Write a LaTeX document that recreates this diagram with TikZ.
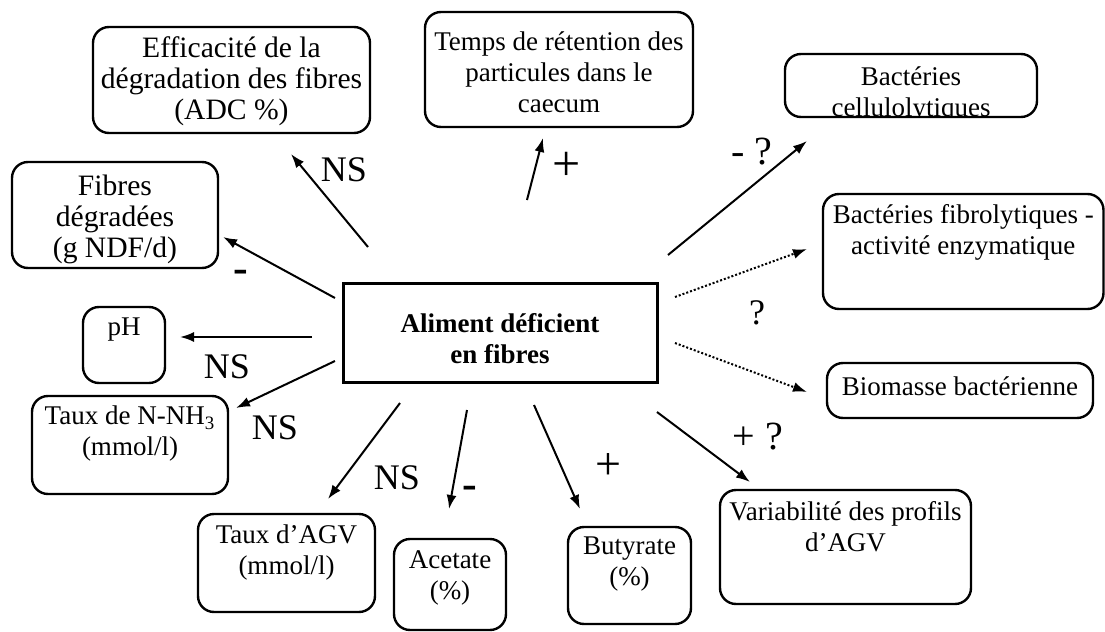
\documentclass[tikz,border=0pt]{standalone}
\usepackage{fontspec}
\setmainfont{Liberation Serif}
\usetikzlibrary{positioning,arrows.meta}

\begin{document}
\begin{tikzpicture}[x=0.5pt,y=-0.5pt,
        rbox/.style={draw,line width=1.2pt,rounded corners=8pt,inner sep=0pt},
        sbox/.style={draw,line width=1.5pt,inner sep=0pt},
        txt/.style={align=center,inner sep=0pt,font=\fontsize{13.5}{15.5}\selectfont},
        bigtxt/.style={txt,font=\fontsize{14.8}{15.5}\selectfont},
        lbl/.style={inner sep=0pt,font=\fontsize{18}{20}\selectfont},
        qlbl/.style={inner sep=0pt,font=\fontsize{20}{22}\selectfont},
        plus/.style={inner sep=0pt,font=\fontsize{23}{25}\selectfont},
        minus/.style={inner sep=0pt,anchor=base,font=\fontsize{22}{24}\selectfont\bfseries},
        arr/.style={line width=1pt,-{Latex[length=7pt,width=5pt]}},
        darr/.style={arr,dash pattern=on 1pt off 1pt}]
        \useasboundingbox (0,0) rectangle (1105,632);
        % centre
        \node[sbox,minimum width=157pt,minimum height=49.5pt] (main) at (500,332.5) {};
        \node[txt,font=\fontsize{13.5}{15.5}\selectfont\bfseries] (mainT) at (500,339) {Aliment déficient\\en fibres};
        % boxes
        \node[rbox,minimum width=138.5pt,minimum height=53pt] (eff) at (231.5,80) {};
        \node[bigtxt] (effT) at (231.5,81) {Efficacité de la\\dégradation des fibres\\(ADC \%)};
        \node[rbox,minimum width=103pt,minimum height=53pt] (fib) at (115,215) {};
        \node[bigtxt] (fibT) at (115,219) {Fibres\\dégradées\\(g NDF/d)};
        \node[rbox,minimum width=134pt,minimum height=57.5pt] (temps) at (559,69.5) {};
        \node[txt] (tempsT) at (559,72) {Temps de rétention des\\particules dans le\\caecum};
        \begin{scope}
            \clip (785,54) rectangle (1037,117);
            \node[txt] (bcellT) at (911,95) {Bactéries\\cellulolytiques};
        \end{scope}
        \node[rbox,minimum width=126pt,minimum height=31.5pt] (bcell) at (911,85.5) {};
        \node[rbox,minimum width=140.25pt,minimum height=57.5pt] (bfib) at (963.25,251.5) {};
        \node[txt,below=5.5pt of bfib.north] (bfibT) {Bactéries fibrolytiques -\\activité enzymatique};
        \node[rbox,minimum width=133pt,minimum height=27.5pt] (biom) at (960,390.5) {};
        \node[txt] (biomT) at (960,386) {Biomasse bactérienne};
        \node[rbox,minimum width=41pt,minimum height=38pt] (ph) at (124,345) {};
        \node[txt,below=6pt of ph.north] (phT) {pH};
        \node[rbox,minimum width=98pt,minimum height=49pt] (nnh) at (130,445) {};
        \node[txt,below=5.5pt of nnh.north] (nnhT) {Taux de N-NH\textsubscript{3}\\(mmol/l)};
        \node[rbox,minimum width=88.5pt,minimum height=49pt] (agv) at (286.5,563) {};
        \node[txt,below=6pt of agv.north] (agvT) {Taux d’AGV\\(mmol/l)};
        \node[rbox,minimum width=56pt,minimum height=45.5pt] (acet) at (450,584.5) {};
        \node[txt,below=6pt of acet.north] (acetT) {Acetate\\(\%)};
        \node[rbox,minimum width=61.5pt,minimum height=48.5pt] (buty) at (629.5,575.5) {};
        \node[txt,below=5.5pt of buty.north] (butyT) {Butyrate\\(\%)};
        \node[rbox,minimum width=125.5pt,minimum height=57pt] (vari) at (845.5,547) {};
        \node[txt,below=6pt of vari.north] (variT) {Variabilité des profils\\d’AGV};
        % arrow ends
        \coordinate (eff-s) at (368,247);   \coordinate (eff-e) at (291,154);
        \coordinate (fib-s) at (335,298);   \coordinate (fib-e) at (223,237);
        \coordinate (temps-s) at (527,200); \coordinate (temps-e) at (543,138);
        \coordinate (bcell-s) at (668,255); \coordinate (bcell-e) at (807,141);
        \coordinate (bfib-s) at (675,297);  \coordinate (bfib-e) at (807,249);
        \coordinate (biom-s) at (675,343);  \coordinate (biom-e) at (807,392);
        \coordinate (vari-s) at (657,412);  \coordinate (vari-e) at (750,482);
        \coordinate (buty-s) at (534,405);  \coordinate (buty-e) at (580,509);
        \coordinate (acet-s) at (467,410);  \coordinate (acet-e) at (449,509);
        \coordinate (agv-s) at (400,403);   \coordinate (agv-e) at (328,499);
        \coordinate (nnh-s) at (335,361);   \coordinate (nnh-e) at (236,408);
        \coordinate (ph-s) at (312,337);    \coordinate (ph-e) at (180,337);
        % arrows
        \draw[arr] (eff-s) -- (eff-e);
        \draw[arr] (fib-s) -- (fib-e);
        \draw[arr] (temps-s) -- (temps-e);
        \draw[arr] (bcell-s) -- (bcell-e);
        \draw[darr] (bfib-s) -- (bfib-e);
        \draw[darr] (biom-s) -- (biom-e);
        \draw[arr] (vari-s) -- (vari-e);
        \draw[arr] (buty-s) -- (buty-e);
        \draw[arr] (acet-s) -- (acet-e);
        \draw[arr] (agv-s) -- (agv-e);
        \draw[arr] (nnh-s) -- (nnh-e);
        \draw[arr] (ph-s) -- (ph-e);
        % labels
        \node[lbl] (effL) at (344,170) {NS};
        \node[minus] (fibL) at (241,282) {-};
        \node[plus,font=\fontsize{25}{27}\selectfont] (tempsL) at (567,166) {+};
        \node[qlbl] (bcellL) at (752,152) {- ?};
        \node[lbl] (bactL) at (757,313) {?};
        \node[qlbl] (variL) at (758,437) {+ ?};
        \node[plus] (butyL) at (608,467) {+};
        \node[minus] (acetL) at (470,498) {-};
        \node[lbl] (agvL) at (397,478) {NS};
        \node[lbl] (nnhL) at (275,428) {NS};
        \node[lbl] (phL) at (227,367) {NS};
\end{tikzpicture}
\end{document}
